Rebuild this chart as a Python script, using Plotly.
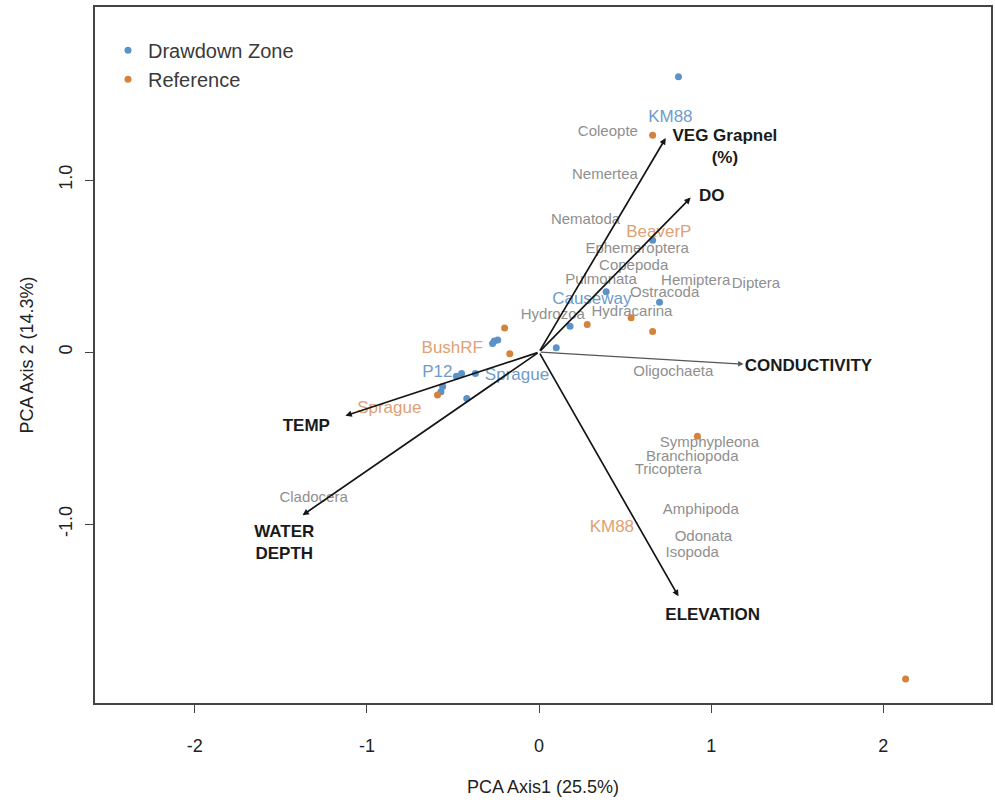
import plotly.graph_objects as go

# ---- site scores ----
dd_x = [0.81, 0.39, 0.70, 0.18, 0.10, -0.26, -0.24, -0.27, -0.45, -0.48, -0.37, -0.56, -0.57, -0.42, 0.66]
dd_y = [1.60, 0.35, 0.29, 0.15, 0.025, 0.064, 0.07, 0.05, -0.124, -0.14, -0.124, -0.20, -0.23, -0.27, 0.65]
ref_x = [0.66, -0.20, -0.17, 0.28, 0.535, 0.66, -0.59, 0.92, 2.13]
ref_y = [1.26, 0.14, -0.01, 0.16, 0.20, 0.12, -0.25, -0.49, -1.90]

# ---- site labels ----
dd_lab = ["KM88", "Causeway", "P12", "Sprague"]
dd_lab_x = [0.763, 0.307, -0.591, -0.128]
dd_lab_y = [1.36, 0.302, -0.122, -0.14]
ref_lab = ["BeaverP", "BushRF", "Sprague", "KM88"]
ref_lab_x = [0.696, -0.504, -0.87, 0.423]
ref_lab_y = [0.694, 0.017, -0.327, -1.023]

# ---- species scores ----
species = ["Coleopte", "Nemertea", "Nematoda", "Ephemeroptera", "Copepoda", "Pulmonata",
           "Hemiptera", "Diptera", "Ostracoda", "Hydracarina", "Hydrozoa", "Oligochaeta",
           "Symphypleona", "Branchiopoda", "Tricoptera", "Amphipoda", "Odonata", "Isopoda",
           "Cladocera"]
sp_x = [0.40, 0.383, 0.27, 0.57, 0.55, 0.36, 0.91, 1.26, 0.73, 0.54, 0.08, 0.78,
        0.99, 0.89, 0.75, 0.94, 0.955, 0.89, -1.31]
sp_y = [1.28, 1.03, 0.766, 0.60, 0.50, 0.418, 0.413, 0.395, 0.343, 0.233, 0.215, -0.116,
        -0.529, -0.61, -0.686, -0.92, -1.078, -1.172, -0.85]

# ---- environmental vectors ----
env = ["VEG Grapnel<br>(%)", "DO", "CONDUCTIVITY", "ELEVATION", "TEMP", "WATER<br>DEPTH"]
env_x = [0.736, 0.881, 1.188, 0.81, -1.125, -1.374]
env_y = [1.244, 0.898, -0.07, -1.42, -0.37, -0.948]
env_lab_x = [1.08, 1.003, 1.565, 1.009, -1.352, -1.48]
env_lab_y = [1.19, 0.901, -0.087, -1.53, -0.436, -1.116]

x_ticks = [-2, -1, 0, 1, 2]
y_ticks = [-1.0, 0, 1.0]
y_tick_text = ["-1.0", "0", "1.0"]

BLUE = "#5b93c8"
ORANGE = "#d4833c"
BLUE_T = "#6f9cc9"
ORANGE_T = "#e0a174"
GRAY_T = "#8f8f8f"
FONT = "Liberation Sans, Arial, sans-serif"

fig = go.Figure()

fig.add_trace(go.Scatter(x=sp_x, y=sp_y, mode="text", text=species,
                         textfont=dict(family=FONT, size=15, color=GRAY_T),
                         showlegend=False, hoverinfo="skip"))
fig.add_trace(go.Scatter(x=dd_x, y=dd_y, mode="markers", name="Drawdown Zone",
                         marker=dict(color=BLUE, size=7)))
fig.add_trace(go.Scatter(x=ref_x, y=ref_y, mode="markers", name="Reference",
                         marker=dict(color=ORANGE, size=7)))
fig.add_trace(go.Scatter(x=dd_lab_x, y=dd_lab_y, mode="text", text=dd_lab,
                         textfont=dict(family=FONT, size=17, color=BLUE_T),
                         showlegend=False, hoverinfo="skip"))
fig.add_trace(go.Scatter(x=ref_lab_x, y=ref_lab_y, mode="text", text=ref_lab,
                         textfont=dict(family=FONT, size=17, color=ORANGE_T),
                         showlegend=False, hoverinfo="skip"))
fig.add_trace(go.Scatter(x=env_lab_x, y=env_lab_y, mode="text",
                         text=["<b>" + t.replace("<br>", "</b><br><b>") + "</b>" for t in env],
                         textfont=dict(family=FONT, size=17, color="#1a1a1a"),
                         showlegend=False, hoverinfo="skip"))

for name, ex, ey in zip(env, env_x, env_y):
    thin = name == "CONDUCTIVITY"
    fig.add_annotation(x=ex, y=ey, ax=0, ay=0, xref="x", yref="y", axref="x", ayref="y",
                       text="", showarrow=True, arrowhead=2,
                       arrowsize=0.75 if not thin else 0.9,
                       arrowwidth=1.2 if thin else 1.7,
                       arrowcolor="#555555" if thin else "#151515")

axis_common = dict(showgrid=False, zeroline=False, showline=True, mirror=True,
                   linecolor="#444444", linewidth=1.5, ticks="outside", ticklen=8,
                   tickcolor="#444444", tickwidth=1.3,
                   tickfont=dict(family=FONT, size=18, color="#222222"),
                   title_font=dict(family=FONT, size=18, color="#222222"))

fig.update_xaxes(range=[-2.58, 2.626], tickvals=x_ticks, ticktext=[str(v) for v in x_ticks],
                 title_text="PCA Axis1 (25.5%)", title_standoff=25, ticklabelstandoff=18,
                 **axis_common)
fig.update_yaxes(range=[-2.04, 2.006], tickvals=y_ticks, ticktext=y_tick_text, tickangle=-90,
                 title_text="PCA Axis 2 (14.3%)", title_standoff=18, ticklabelstandoff=6,
                 **axis_common)

fig.update_layout(
    width=995, height=805,
    margin=dict(l=95, r=2, t=7, b=102),
    plot_bgcolor="white", paper_bgcolor="white",
    legend=dict(x=0.0145, y=0.966, xanchor="left", yanchor="top",
                font=dict(family=FONT, size=20, color="#3a3a3a"),
                bgcolor="rgba(0,0,0,0)", tracegroupgap=0),
)

fig.write_html("out.html")
